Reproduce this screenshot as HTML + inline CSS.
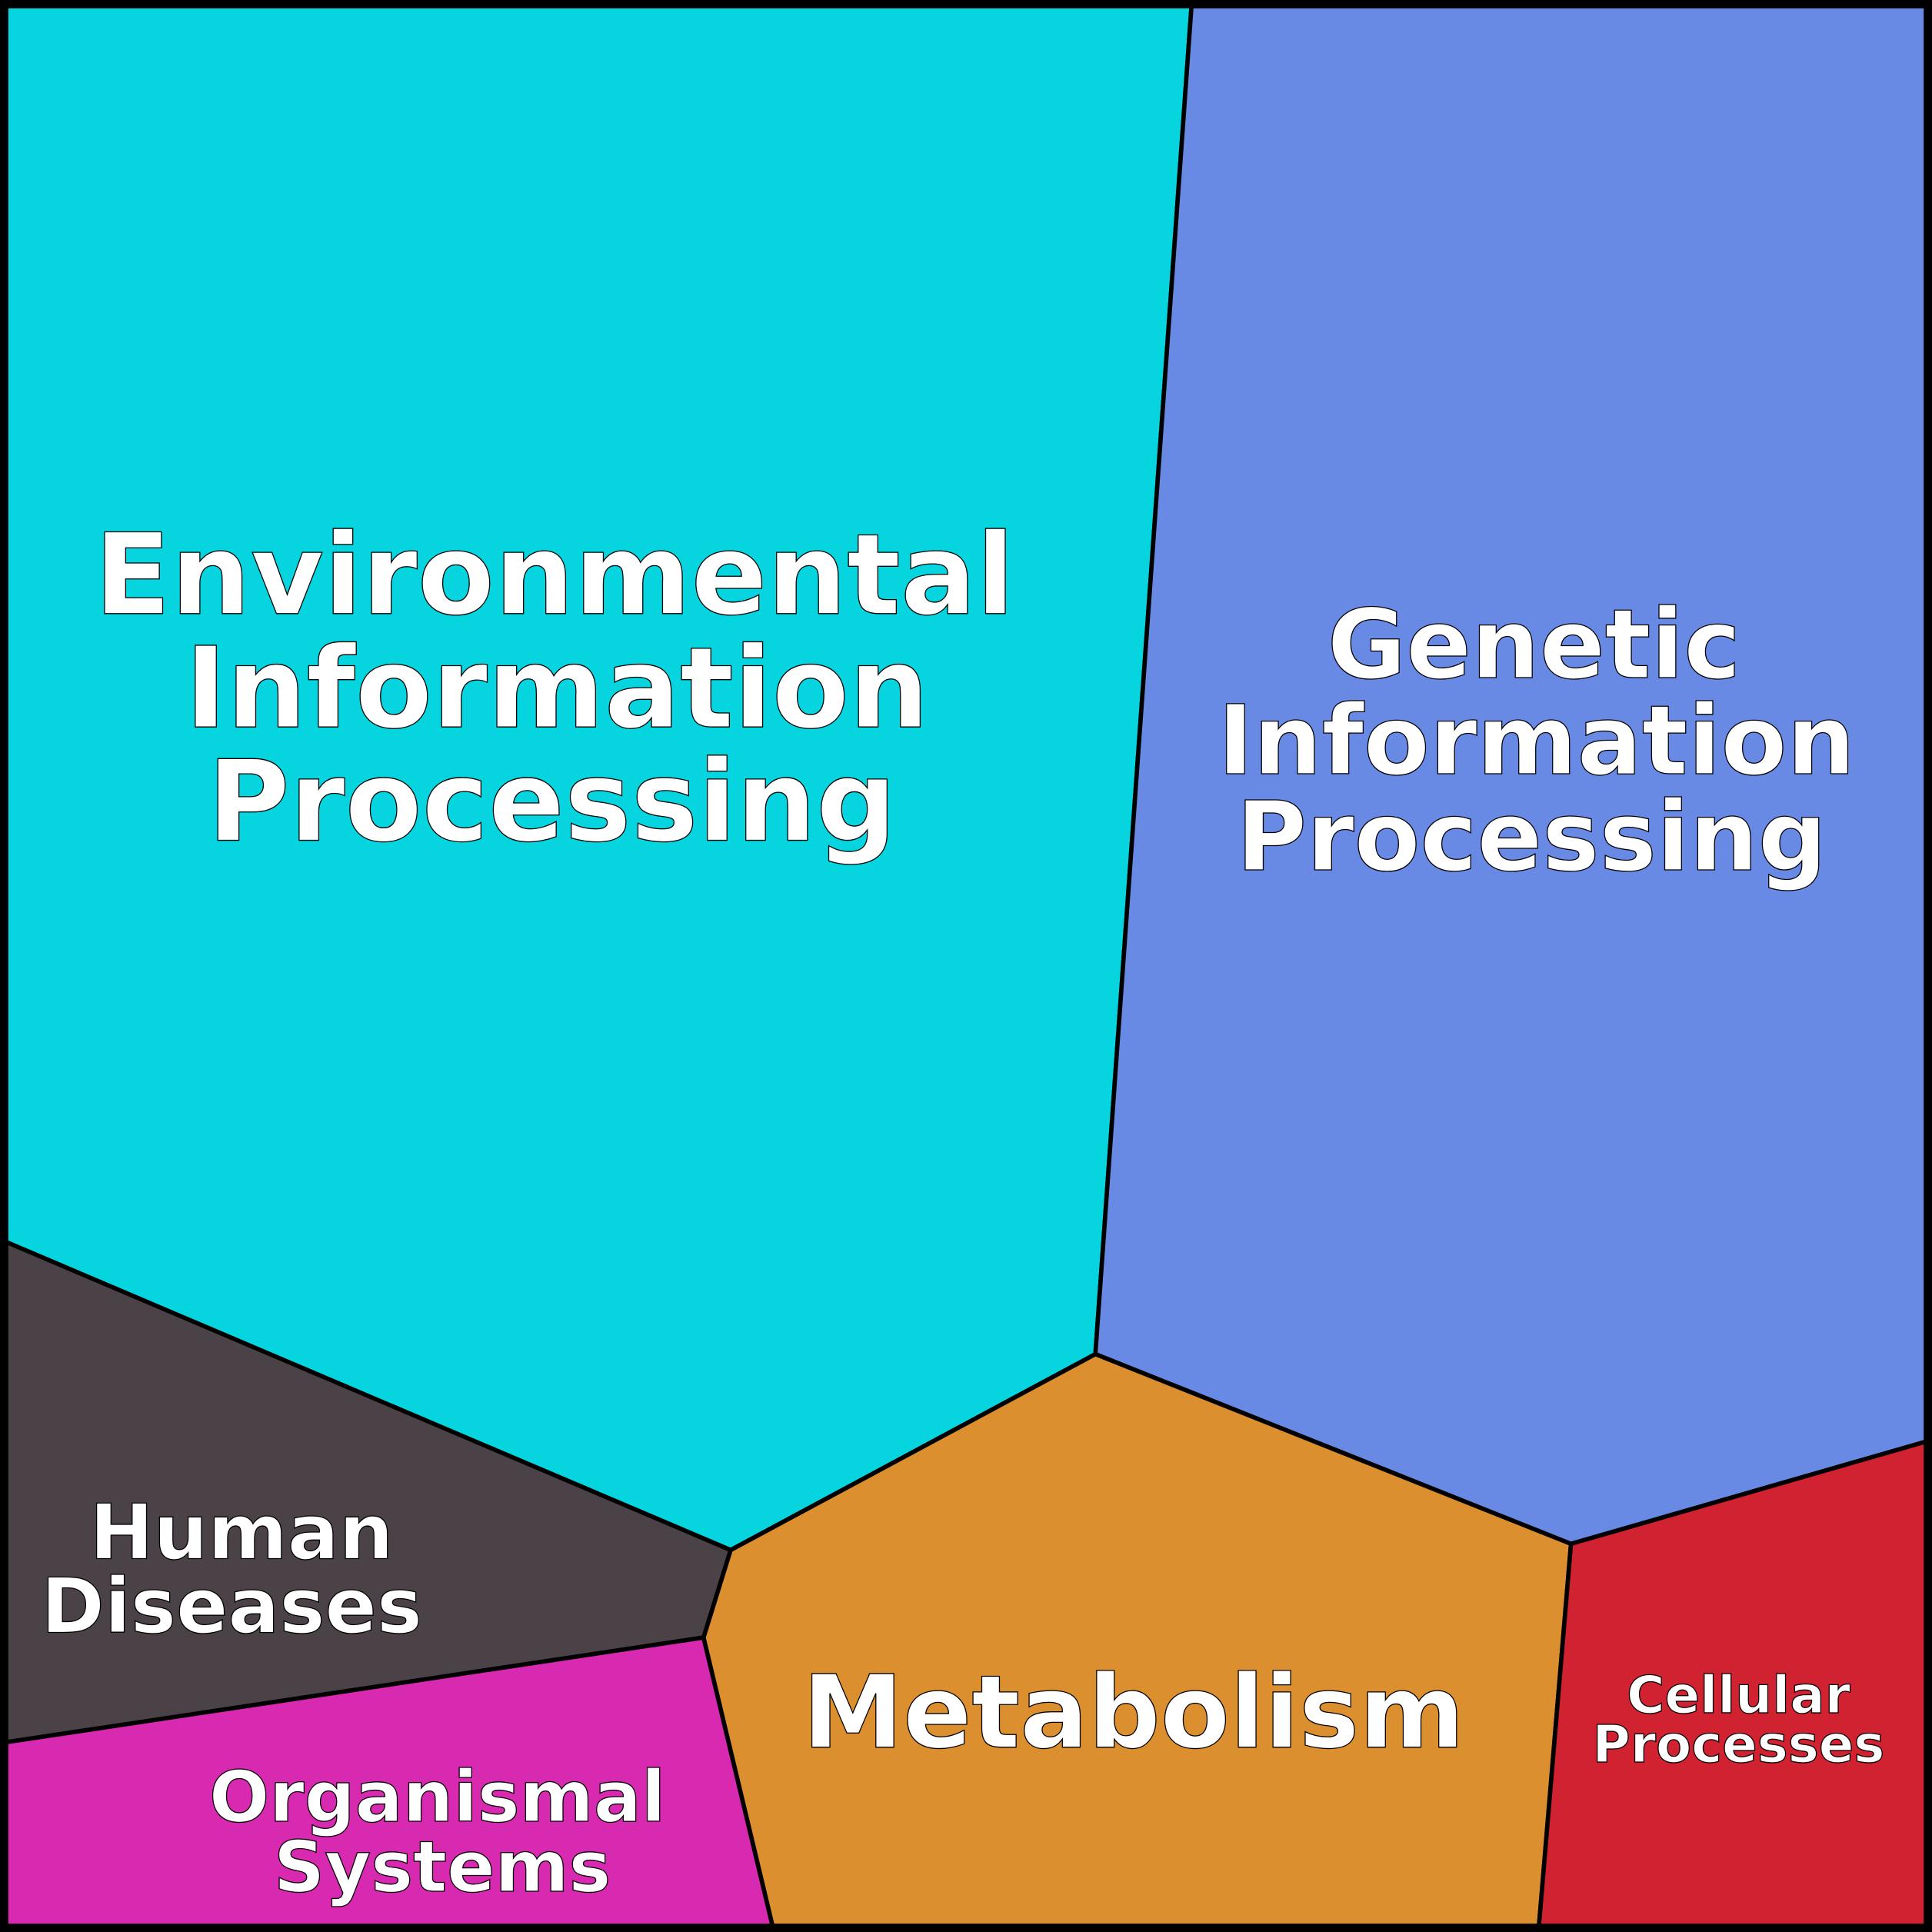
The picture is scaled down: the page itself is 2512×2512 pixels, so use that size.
<!DOCTYPE html>
<html><head><meta charset="utf-8"><style>
html,body{margin:0;padding:0;background:#fff}
svg{display:block}
text{font-family:"DejaVu Sans","Liberation Sans",sans-serif;font-weight:bold;fill:#fff;stroke:#000;stroke-width:0.8;text-anchor:middle}
</style></head><body>
<svg width="2512" height="2512" viewBox="0 0 1568 1568" xmlns="http://www.w3.org/2000/svg">
<g stroke="#000" stroke-width="3.5" stroke-linejoin="round">
<polygon points="5,5 967,5 889,1099 593,1258 5,1008" fill="#06D4DF"/>
<polygon points="967,5 1563,5 1563,1170 1275,1253 889,1099" fill="#6889E4"/>
<polygon points="5,1008 593,1258 571,1329 5,1414" fill="#4B4248"/>
<polygon points="5,1414 571,1329 627,1563 5,1563" fill="#D829B1"/>
<polygon points="593,1258 889,1099 1275,1253 1249,1563 627,1563 571,1329" fill="#DB8F2F"/>
<polygon points="1275,1253 1563,1170 1563,1563 1249,1563" fill="#D12231"/>
</g>
<rect x="3" y="3" width="1562" height="1562" fill="none" stroke="#000" stroke-width="6"/>
<text font-size="91" x="450" y="498">Environmental</text>
<text font-size="91" x="452" y="590">Information</text>
<text font-size="91" x="448" y="682">Processing</text>
<text font-size="78" x="1245" y="550">Genetic</text>
<text font-size="78" x="1247" y="628">Information</text>
<text font-size="78" x="1243" y="706">Processing</text>
<text font-size="62" x="196" y="1265">Human</text>
<text font-size="62" x="188" y="1325">Diseases</text>
<text font-size="82" x="920" y="1418">Metabolism</text>
<text font-size="57.5" x="355" y="1478">Organismal</text>
<text font-size="57.5" x="359" y="1535">Systems</text>
<text font-size="42" x="1411" y="1390">Cellular</text>
<text font-size="42" x="1411" y="1430">Processes</text>
</svg>
</body></html>
